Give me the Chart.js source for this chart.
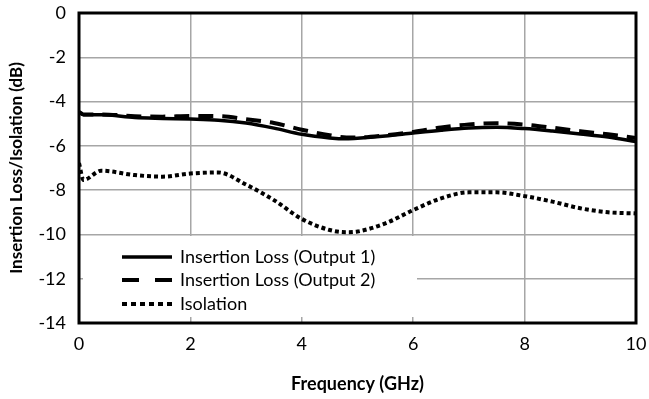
<!DOCTYPE html>
<html>
<head>
<meta charset="utf-8">
<script src="https://cdn.jsdelivr.net/npm/chart.js@4/dist/chart.umd.min.js"></script>
<style>
  html, body { margin: 0; padding: 0; background: #fff; }
  #wrap { width: 649px; height: 399px; }
</style>
</head>
<body>
<div id="wrap"><canvas id="lossChart" width="649" height="399"></canvas></div>
<script>
// Frequency points (GHz)
const freq = [0, 0.08, 0.4, 1, 1.5, 2, 2.5, 3, 3.5, 4, 4.5, 4.8, 5, 5.5, 6, 6.5, 7, 7.5, 8, 8.5, 9, 9.5, 10];

// Insertion loss, output 1 (dB)
const lossOut1 = [-4.47, -4.6, -4.6, -4.72, -4.76, -4.79, -4.84, -4.97, -5.2, -5.48, -5.64, -5.68, -5.66, -5.56, -5.42, -5.29, -5.19, -5.16, -5.22, -5.33, -5.46, -5.6, -5.8];

// Insertion loss, output 2 (dB)
const lossOut2 = [-4.47, -4.58, -4.58, -4.66, -4.68, -4.65, -4.66, -4.8, -4.97, -5.27, -5.52, -5.62, -5.62, -5.52, -5.37, -5.17, -5.03, -4.98, -5.04, -5.18, -5.34, -5.48, -5.65];

// Isolation (dB)
const isolation = [-6.78, -7.54, -7.12, -7.32, -7.39, -7.25, -7.2, -7.75, -8.45, -9.3, -9.8, -9.9, -9.87, -9.5, -8.9, -8.37, -8.1, -8.1, -8.27, -8.52, -8.82, -9.0, -9.05];

const seriesNames = ['Insertion Loss (Output 1)', 'Insertion Loss (Output 2)', 'Isolation'];
const xTicks = [0, 2, 4, 6, 8, 10];
const yTicks = [0, -2, -4, -6, -8, -10, -12, -14];

const FONT = 'Lato, "Open Sans", sans-serif';

function points(ys) {
    return freq.map(function (f, i) { return { x: f, y: ys[i] }; });
}

const styles = [
    { dash: [], width: 3.5 },
    { dash: [15, 9], width: 4 },
    { dash: [4, 3], width: 4 }
];

// frame around the plot area
const framePlugin = {
    id: 'frame',
    afterDraw(chart) {
        const a = chart.chartArea;
        const ctx = chart.ctx;
        ctx.save();
        ctx.strokeStyle = '#000';
        ctx.lineWidth = 3;
        ctx.strokeRect(a.left, a.top, a.right - a.left, a.bottom - a.top);
        ctx.restore();
    }
};

// legend box inside the plot area, bottom left
const boxLegend = {
    id: 'boxLegend',
    beforeDatasetsDraw(chart) {
        const a = chart.chartArea;
        const ctx = chart.ctx;
        const x0 = a.left + 4, y0 = a.bottom - 87;
        ctx.save();
        ctx.fillStyle = '#fff';
        ctx.fillRect(x0, y0, 334, 81);
        ctx.font = '18px ' + FONT;
        ctx.textBaseline = 'middle';
        ctx.fillStyle = '#000';
        const rows = [257, 280, 304];
        seriesNames.forEach(function (name, i) {
            const y = rows[i];
            ctx.beginPath();
            ctx.strokeStyle = '#000';
            ctx.lineWidth = styles[i].width;
            ctx.lineCap = 'butt';
            if (i === 1) ctx.setLineDash([17, 16]);
            else if (i === 2) ctx.setLineDash([5, 4]);
            else ctx.setLineDash([]);
            ctx.moveTo(122, y);
            ctx.lineTo(172, y);
            ctx.stroke();
            ctx.setLineDash([]);
            ctx.fillText(name, 180, y);
        });
        ctx.restore();
    }
};

const ctx = document.getElementById('lossChart').getContext('2d');
new Chart(ctx, {
    type: 'line',
    data: {
        datasets: [lossOut1, lossOut2, isolation].map(function (ys, i) {
            return {
                label: seriesNames[i],
                data: points(ys),
                borderColor: '#000',
                borderWidth: styles[i].width,
                borderDash: styles[i].dash,
                borderCapStyle: 'butt',
                pointRadius: 0,
                fill: false,
                cubicInterpolationMode: 'monotone'
            };
        })
    },
    options: {
        responsive: false,
        animation: false,
        layout: { padding: { top: 13, right: 13, left: 0, bottom: 0 } },
        plugins: {
            legend: { display: false },
            tooltip: { enabled: false }
        },
        scales: {
            x: {
                type: 'linear',
                min: 0,
                max: 10,
                afterBuildTicks(scale) { scale.ticks = xTicks.map(function (v) { return { value: v }; }); },
                afterFit(scale) {
                    scale.height = 76;
                    scale.paddingLeft = 0;
                    scale.paddingRight = 0;
                },
                grid: { color: '#a6a6a6', lineWidth: 1.5, drawTicks: false },
                border: { display: false },
                ticks: { color: '#000', padding: 10, font: { family: FONT, size: 18 } },
                title: {
                    display: true,
                    text: 'Frequency (GHz)',
                    color: '#000',
                    font: { family: FONT, size: 18, weight: 'bold' },
                    padding: { top: 13 }
                }
            },
            y: {
                min: -14,
                max: 0,
                afterBuildTicks(scale) { scale.ticks = yTicks.map(function (v) { return { value: v }; }); },
                afterFit(scale) {
                    scale.width = 79;
                    scale.paddingTop = 0;
                    scale.paddingBottom = 0;
                },
                grid: { color: '#a6a6a6', lineWidth: 1.5, drawTicks: false },
                border: { display: false },
                ticks: { color: '#000', padding: 13, font: { family: FONT, size: 18 } },
                title: {
                    display: true,
                    text: 'Insertion Loss/Isolation (dB)',
                    color: '#000',
                    font: { family: FONT, size: 17, weight: 'bold' },
                    padding: { top: 6 }
                }
            }
        }
    },
    plugins: [boxLegend, framePlugin]
});
</script>
</body>
</html>
